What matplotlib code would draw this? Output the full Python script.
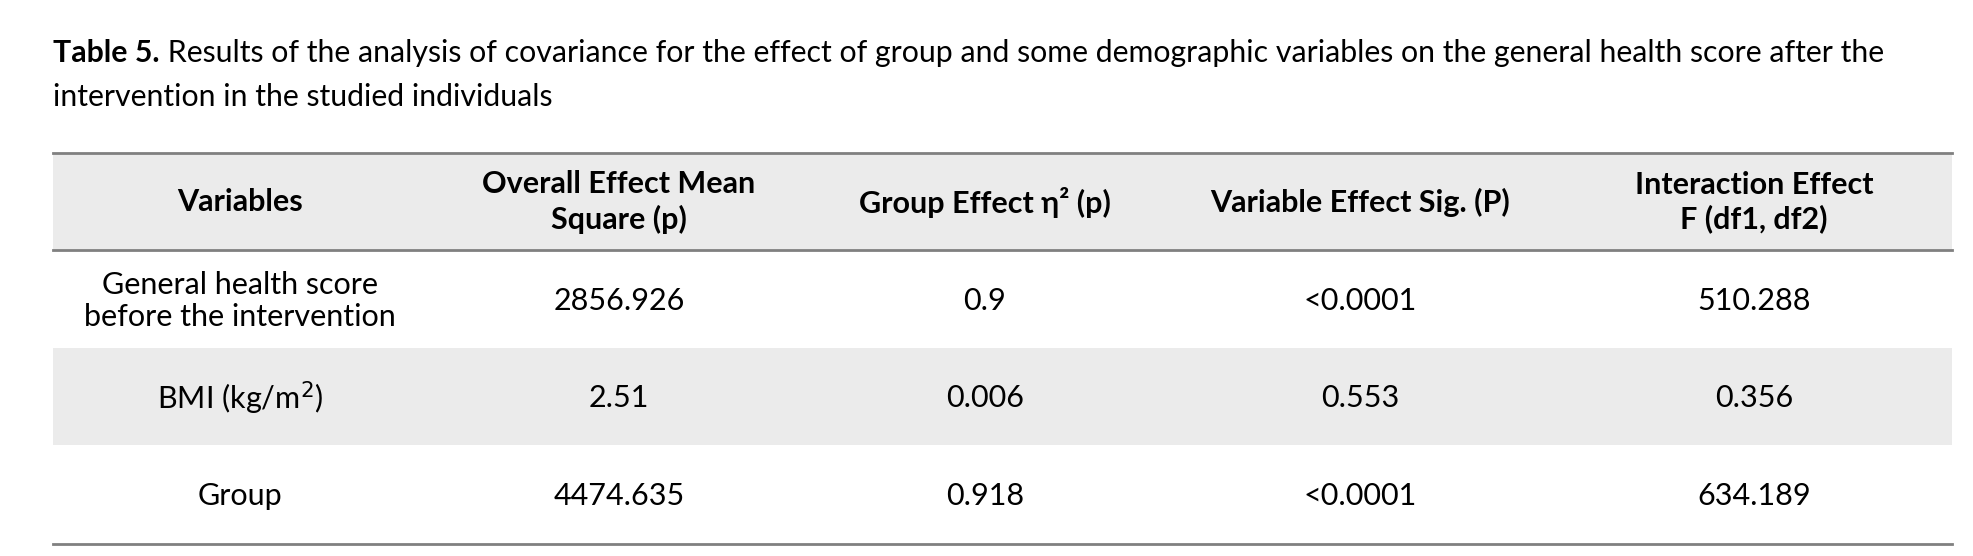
import matplotlib
matplotlib.use("Agg")
import matplotlib.pyplot as plt
from matplotlib.patches import Rectangle

title_bold = "Table 5."
title_rest = " Results of the analysis of covariance for the effect of group and some demographic variables on the general health score after the"
title_line2 = "intervention in the studied individuals"
headers = ["Variables", "Overall Effect Mean\nSquare (p)", "Group Effect η² (p)",
           "Variable Effect Sig. (P)", "Interaction Effect\nF (df1, df2)"]
row_labels = ["General health score\nbefore the intervention", "BMI (kg/m$^2$)", "Group"]
mean_square = ["2856.926", "2.51", "4474.635"]
eta2 = ["0.9", "0.006", "0.918"]
sig = ["<0.0001", "0.553", "<0.0001"]
fvals = ["510.288", "0.356", "634.189"]

W, H = 1973, 556
fig = plt.figure(figsize=(W/100, H/100), dpi=100)
ax = fig.add_axes([0, 0, 1, 1])
ax.set_xlim(0, W); ax.set_ylim(H, 0); ax.axis("off")
FONT = "Lato"
fs_t = 21.8
fs = 22

t = ax.text(53, 53, title_bold, fontsize=fs_t, fontweight="bold", family=FONT, va="center")
fig.canvas.draw()
bb = t.get_window_extent()
ax.text(53 + bb.width, 53, title_rest, fontsize=fs_t, family=FONT, va="center")
ax.text(53, 97, title_line2, fontsize=fs_t, family=FONT, va="center")

x0, x1 = 53, 1952
gray = "#ebebeb"
ax.add_patch(Rectangle((x0, 153), x1-x0, 97, color=gray, lw=0))
ax.add_patch(Rectangle((x0, 348), x1-x0, 97, color=gray, lw=0))
for y in (153, 250, 544):
    ax.plot([x0, x1], [y, y], color="#808080", lw=2)

cx = [240, 619, 985, 1360, 1754]
for c, h in zip(cx, headers):
    ax.text(c, 202, h, fontsize=fs, fontweight="bold", family=FONT, ha="center", va="center", linespacing=1.25)
rows_y = [301, 398, 496]
for i, y in enumerate(rows_y):
    vals = [row_labels[i], mean_square[i], eta2[i], sig[i], fvals[i]]
    for c, v in zip(cx, vals):
        ax.text(c, y, v, fontsize=fs, family=FONT, ha="center", va="center", linespacing=1.2)

fig.savefig("out.png", dpi=100)
